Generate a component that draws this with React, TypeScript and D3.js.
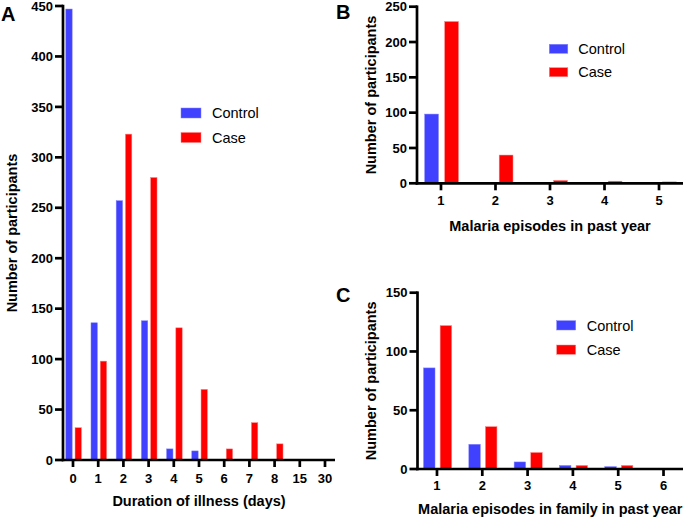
import React from "react";
import * as d3 from "d3";

const durationCats = ["0", "1", "2", "3", "4", "5", "6", "7", "8", "15", "30"];
const durationControl = [447, 136, 257, 138, 11, 9, 0, 0, 0, 0, 0];
const durationCase = [32, 98, 323, 280, 131, 70, 11, 37, 16, 0, 0];

const episodesCats = ["1", "2", "3", "4", "5"];
const episodesControl = [98, 0, 0, 0, 0];
const episodesCase = [229, 40, 4, 3, 2];

const familyCats = ["1", "2", "3", "4", "5", "6"];
const familyControl = [86, 21, 6, 3, 2, 0];
const familyCase = [122, 36, 14, 3, 3, 0];

const seriesNames = ["Control", "Case"];
const seriesColors = ["#4040ff", "#ff0000"];
const seriesStroke = ["#8080ff", "#ff8080"];

const FONT = "'Liberation Sans', Arial, Helvetica, sans-serif";

type PanelProps = {
  label: string;
  labelPos: [number, number];
  cats: string[];
  control: number[];
  cases: number[];
  yMax: number;
  yStep: number;
  x0: number;
  x1: number;
  yTop: number;
  yBottom: number;
  pad: number;
  xTitle: string;
  xTickBaseline: number;
  xTitleBaseline: number;
  yTitleX: number;
  legend: { x: number; y: number; w: number; h: number; gap: number; textX: number };
};

function Panel(p: PanelProps) {
  const x = d3.scalePoint<string>().domain(p.cats).range([p.x0, p.x1]).padding(p.pad);
  const step = x.step();
  const sub = d3
    .scaleBand<string>()
    .domain(seriesNames)
    .range([-0.31 * step + 0.6, 0.31 * step + 0.6])
    .paddingInner(0.31);
  const y = d3.scaleLinear().domain([0, p.yMax]).range([p.yBottom, p.yTop]);
  const yTicks = d3.range(0, p.yMax + p.yStep / 2, p.yStep);
  const data = [p.control, p.cases];
  const midX = (p.x0 + p.x1) / 2;
  const midY = (p.yTop + p.yBottom) / 2;
  const sw = 2.7;
  return (
    <g fontFamily={FONT}>
      <text x={p.labelPos[0]} y={p.labelPos[1]} fontSize={20} fontWeight="bold">
        {p.label}
      </text>
      {data.map((vals, si) =>
        p.cats.map((c, i) => {
          const v = vals[i];
          if (!v) return null;
          return (
            <rect
              key={`${si}-${c}`}
              x={(x(c) as number) + (sub(seriesNames[si]) as number)}
              y={y(v)}
              width={sub.bandwidth()}
              height={y(0) - y(v)}
              fill={seriesColors[si]}
              stroke={seriesStroke[si]}
              strokeWidth={0.5}
            />
          );
        })
      )}
      {/* y axis */}
      <line x1={p.x0} x2={p.x0} y1={p.yTop - 1.3} y2={p.yBottom + 1.3} stroke="#000" strokeWidth={sw} />
      {yTicks.map((t) => (
        <g key={t}>
          <line x1={p.x0 - 8} x2={p.x0} y1={y(t)} y2={y(t)} stroke="#000" strokeWidth={sw} />
          <text
            x={p.x0 - 10}
            y={y(t)}
            dy="0.36em"
            textAnchor="end"
            fontSize={13}
            fontWeight="bold"
          >
            {t}
          </text>
        </g>
      ))}
      {/* x axis */}
      <line x1={p.x0 - 1.3} x2={p.x1} y1={p.yBottom} y2={p.yBottom} stroke="#000" strokeWidth={sw} />
      {p.cats.map((c) => (
        <g key={c}>
          <line
            x1={x(c)}
            x2={x(c)}
            y1={p.yBottom}
            y2={p.yBottom + 7}
            stroke="#000"
            strokeWidth={sw}
          />
          <text x={x(c)} y={p.xTickBaseline} textAnchor="middle" fontSize={13} fontWeight="bold">
            {c}
          </text>
        </g>
      ))}
      <text x={midX} y={p.xTitleBaseline} textAnchor="middle" fontSize={14.5} fontWeight="bold">
        {p.xTitle}
      </text>
      <text
        transform={`translate(${p.yTitleX},${midY}) rotate(-90)`}
        textAnchor="middle"
        dy="0.35em"
        fontSize={14.5}
        fontWeight="bold"
      >
        Number of participants
      </text>
      {seriesNames.map((s, i) => (
        <g key={s}>
          <rect
            x={p.legend.x}
            y={p.legend.y + i * p.legend.gap}
            width={p.legend.w}
            height={p.legend.h}
            fill={seriesColors[i]}
            stroke={seriesStroke[i]}
            strokeWidth={0.5}
          />
          <text
            x={p.legend.textX}
            y={p.legend.y + i * p.legend.gap + p.legend.h / 2}
            dy="0.36em"
            fontSize={14.5}
          >
            {s}
          </text>
        </g>
      ))}
    </g>
  );
}

export default function App() {
  return (
    <svg
      width={685}
      height={518}
      style={{ position: "absolute", left: 0, top: 0, background: "#fff" }}
    >
      <rect width={685} height={518} fill="#fff" />
      <Panel
        label="A"
        labelPos={[1, 20.5]}
        cats={durationCats}
        control={durationControl}
        cases={durationCase}
        yMax={450}
        yStep={50}
        x0={63}
        x1={335}
        yTop={6}
        yBottom={460}
        pad={0.397}
        xTitle="Duration of illness (days)"
        xTickBaseline={482.5}
        xTitleBaseline={506}
        yTitleX={12}
        legend={{ x: 181, y: 108, w: 20, h: 10, gap: 24.5, textX: 212 }}
      />
      <Panel
        label="B"
        labelPos={[336, 18.8]}
        cats={episodesCats}
        control={episodesControl}
        cases={episodesCase}
        yMax={250}
        yStep={50}
        x0={417}
        x1={683}
        yTop={6.7}
        yBottom={183.3}
        pad={0.44}
        xTitle="Malaria episodes in past year"
        xTickBaseline={205}
        xTitleBaseline={230.5}
        yTitleX={371}
        legend={{ x: 549.3, y: 44.3, w: 18.5, h: 9, gap: 23.4, textX: 578.3 }}
      />
      <Panel
        label="C"
        labelPos={[336, 302]}
        cats={familyCats}
        control={familyControl}
        cases={familyCase}
        yMax={150}
        yStep={50}
        x0={417.5}
        x1={683}
        yTop={292.7}
        yBottom={469}
        pad={0.43}
        xTitle="Malaria episodes in family in past year"
        xTickBaseline={490}
        xTitleBaseline={513.5}
        yTitleX={371}
        legend={{ x: 556.7, y: 320.7, w: 19, h: 9.3, gap: 24.3, textX: 586.7 }}
      />
    </svg>
  );
}
